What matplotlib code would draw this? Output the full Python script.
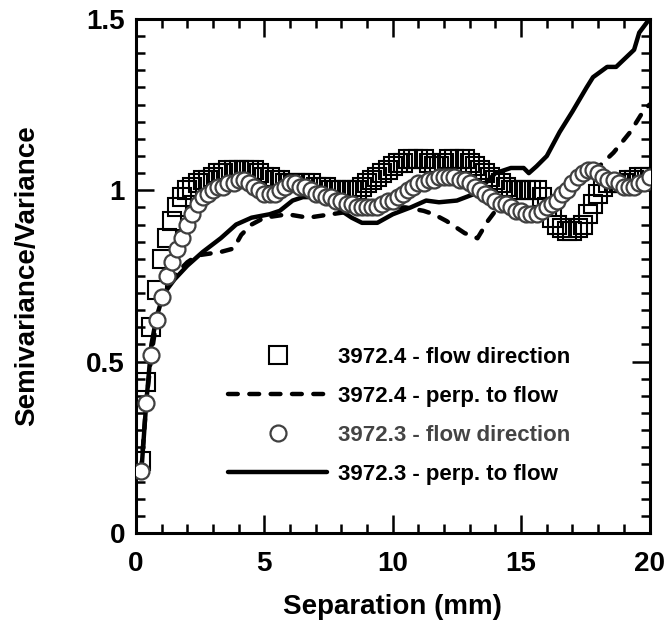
import numpy as np
import matplotlib
matplotlib.use('Agg')
import matplotlib.pyplot as plt
from matplotlib.ticker import MultipleLocator

# separation lags for the marker series (mm), 0.2 mm step
lag = np.arange(1, 101) * 0.2

flow_4 = [0.21, 0.44, 0.60, 0.71, 0.80, 0.86, 0.91, 0.95, 0.98, 1.00,
          1.01, 1.02, 1.03, 1.03, 1.04, 1.05, 1.05, 1.06, 1.06, 1.06,
          1.06, 1.06, 1.06, 1.05, 1.04, 1.04, 1.03, 1.03, 1.02, 1.02,
          1.02, 1.02, 1.02, 1.02, 1.01, 1.01, 1.01, 1.00, 1.00, 1.00,
          1.00, 1.00, 1.00, 1.01, 1.02, 1.03, 1.04, 1.05, 1.06, 1.07,
          1.08, 1.08, 1.09, 1.09, 1.09, 1.09, 1.08, 1.07, 1.07, 1.08,
          1.09, 1.09, 1.09, 1.09, 1.08, 1.07, 1.06, 1.05, 1.04, 1.03,
          1.02, 1.01, 1.00, 1.00, 1.00, 1.00, 1.00, 1.00, 0.98, 0.95,
          0.92, 0.90, 0.89, 0.88, 0.88, 0.89, 0.90, 0.93, 0.96, 0.99,
          1.01, 1.02, 1.02, 1.02, 1.02, 1.03, 1.03, 1.04, 1.04, 1.04]

flow_3 = [0.18, 0.38, 0.52, 0.62, 0.69, 0.75, 0.79, 0.83, 0.86, 0.90,
          0.93, 0.96, 0.98, 0.99, 1.00, 1.01, 1.01, 1.02, 1.02, 1.03,
          1.03, 1.02, 1.01, 1.00, 0.99, 0.99, 0.99, 1.00, 1.01, 1.02,
          1.02, 1.01, 1.01, 1.00, 0.99, 0.99, 0.98, 0.98, 0.97, 0.97,
          0.96, 0.96, 0.95, 0.95, 0.95, 0.95, 0.95, 0.96, 0.97, 0.97,
          0.98, 0.99, 1.00, 1.01, 1.02, 1.02, 1.03, 1.03, 1.04, 1.04,
          1.04, 1.04, 1.03, 1.03, 1.02, 1.01, 1.00, 0.99, 0.98, 0.97,
          0.96, 0.96, 0.95, 0.94, 0.94, 0.93, 0.93, 0.93, 0.94, 0.95,
          0.96, 0.97, 0.99, 1.00, 1.02, 1.04, 1.05, 1.06, 1.06, 1.05,
          1.04, 1.03, 1.03, 1.02, 1.01, 1.01, 1.01, 1.02, 1.02, 1.04]

perp_4_x = [0.2, 0.4, 0.6, 0.8, 1.0, 1.3, 1.6, 2.0, 2.4, 3.3, 3.8, 4.1, 4.5,
            5.0, 5.9, 6.7, 7.6, 8.5, 9.5, 10.5, 11.2, 11.6, 12.1, 12.8,
            13.3, 13.7, 14.2, 15.0, 15.6, 16.2, 16.8, 17.4, 17.9, 18.6,
            19.25, 19.75, 20.0]
perp_4_y = [0.18, 0.38, 0.52, 0.62, 0.68, 0.73, 0.76, 0.79, 0.81, 0.82, 0.83,
            0.87, 0.90, 0.92, 0.93, 0.92, 0.93, 0.94, 0.95, 0.95, 0.94, 0.93,
            0.91, 0.875, 0.86, 0.91, 0.96, 0.94, 0.94, 0.97, 1.00, 1.04,
            1.06, 1.11, 1.17, 1.23, 1.25]

perp_3_x = [0.2, 0.4, 0.6, 0.8, 1.0, 1.2, 1.5, 2.0, 2.6, 3.3, 3.9, 4.5, 5.2,
            5.6, 6.1, 6.5, 7.0, 7.5, 8.0, 8.4, 8.8, 9.4, 10.0, 10.7, 11.3,
            11.8, 12.5, 13.2, 13.6, 14.0, 14.6, 15.1, 15.3, 15.6, 16.0, 16.5,
            17.0, 17.55, 17.8, 18.35, 18.7, 19.4, 19.6, 20.0]
perp_3_y = [0.17, 0.38, 0.55, 0.63, 0.68, 0.71, 0.74, 0.78, 0.82, 0.86, 0.90,
            0.92, 0.93, 0.94, 0.97, 0.98, 0.98, 0.97, 0.94, 0.92, 0.905,
            0.905, 0.93, 0.95, 0.97, 0.965, 0.97, 0.99, 1.02, 1.05, 1.065,
            1.065, 1.05, 1.07, 1.10, 1.17, 1.23, 1.30, 1.33, 1.36, 1.36, 1.41,
            1.46, 1.50]

plt.rcParams['font.family'] = 'Liberation Sans'
plt.rcParams['font.weight'] = 'bold'

fig = plt.figure(figsize=(6.65, 6.27), dpi=100)
ax = fig.add_axes([0.2045, 0.150, 0.7722, 0.8198])

ax.plot(lag, flow_4, ls='none', marker='s', ms=12.5, mfc='none', mec='black',
        mew=1.5, label='3972.4 - flow direction', zorder=2)
ax.plot(perp_4_x, perp_4_y, color='black', lw=3.2, dashes=(2.2, 2.6),
        dash_capstyle='round', label='3972.4 - perp. to flow', zorder=3)
ax.plot(perp_3_x, perp_3_y, color='black', lw=3.2, solid_capstyle='round',
        label='3972.3 - perp. to flow', zorder=3)
ax.plot(lag, flow_3, ls='none', marker='o', ms=11.5, mfc='white',
        mec='#404040', mew=1.6, label='3972.3 - flow direction', zorder=4)

ax.set_xlim(0, 20)
ax.set_ylim(0, 1.5)
ax.xaxis.set_major_locator(MultipleLocator(5))
ax.xaxis.set_minor_locator(MultipleLocator(1))
ax.yaxis.set_minor_locator(MultipleLocator(0.05))
ax.set_yticks([0, 0.5, 1, 1.5])
ax.set_yticklabels(['0', '0.5', '1', '1.5'])

ax.tick_params(which='both', direction='in', top=True, right=True,
               width=1.8, labelsize=20)
ax.tick_params(axis='x', pad=13)
ax.tick_params(axis='y', pad=8)
ax.tick_params(which='major', length=13)
ax.tick_params(which='minor', length=6.5)
for s in ax.spines.values():
    s.set_linewidth(2.2)

ax.set_xlabel('Separation (mm)', fontsize=20, fontweight='bold', labelpad=12)
ax.set_ylabel('Semivariance/Variance', fontsize=20, fontweight='bold', labelpad=33)

handles, labels = ax.get_legend_handles_labels()
order = [0, 1, 3, 2]
leg = ax.legend([handles[i] for i in order], [labels[i] for i in order],
                frameon=False, fontsize=16, handlelength=4.46,
                handletextpad=0.5, labelspacing=0.81, numpoints=1,
                loc='upper left', bbox_to_anchor=(228 / 665, 1 - 347 / 627),
                bbox_transform=fig.transFigure, borderpad=0, borderaxespad=0)
leg.get_texts()[2].set_color('#444444')

fig.savefig('out.png', dpi=100)
